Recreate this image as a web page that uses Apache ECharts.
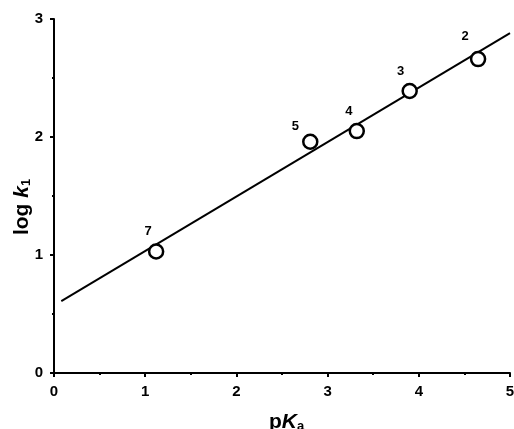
<!DOCTYPE html>
<html>
<head>
<meta charset="utf-8">
<script src="https://cdn.jsdelivr.net/npm/echarts@6/dist/echarts.min.js"></script>
<style>
  html, body { margin: 0; padding: 0; background: #fff; }
  #main { width: 514px; height: 429px; }
</style>
</head>
<body>
<div id="main"></div>
<script>
// measured points (pKa vs log k1), labelled by compound number
var compounds = ['7', '5', '4', '3', '2'];
var pKa = [1.12, 2.81, 3.32, 3.90, 4.65];
var logK1 = [1.03, 1.96, 2.05, 2.39, 2.66];
// fitted straight line, end points
var fitX = [0.08, 5];
var fitY = [0.61, 2.88];
var xTicks = [0, 1, 2, 3, 4, 5];
var yTicks = [0, 1, 2, 3];

var labelOffsets = [[-8, 0], [-15, 4], [-8, 0], [-9, 0], [-13, -3]];

var font = 'Liberation Sans, Arial, sans-serif';

var myChart = echarts.init(document.getElementById('main'));

var pts = pKa.map(function (x, i) {
  return {
    value: [x, logK1[i]],
    label: { offset: labelOffsets[i] }
  };
});

var axisCommon = {
  type: 'value',
  interval: 1,
  axisLine: { show: true, lineStyle: { color: '#000', width: 2 } },
  axisTick: { show: true, inside: false, length: 4, lineStyle: { color: '#000', width: 2 } },
  minorTick: { show: true, splitNumber: 2, length: 2, lineStyle: { color: '#000', width: 2 } },
  splitLine: { show: false },
  axisLabel: { color: '#000', fontFamily: font, fontWeight: 'bold', fontSize: 15, margin: 11 }
};

var nameRich = {
  k: { fontStyle: 'italic', fontWeight: 'bold', fontSize: 21, fontFamily: font, color: '#000' },
  s: { fontWeight: 'bold', fontSize: 13, fontFamily: font, color: '#000', padding: [9, 0, 0, 0] }
};

myChart.setOption({
  animation: false,
  grid: { left: 54, right: 4, top: 19, bottom: 56, containLabel: false, outerBoundsMode: 'none' },
  xAxis: Object.assign({}, axisCommon, {
    min: xTicks[0],
    max: xTicks[xTicks.length - 1],
    name: 'p{k|K}{s|a}',
    nameLocation: 'middle',
    nameGap: 38,
    nameMoveOverlap: false,
    nameTextStyle: {
      color: '#000', fontFamily: font, fontSize: 21, fontWeight: 'bold',
      padding: [0, 0, 0, 9],
      rich: nameRich
    }
  }),
  yAxis: Object.assign({}, axisCommon, {
    min: yTicks[0],
    max: yTicks[yTicks.length - 1],
    name: 'log {k|k}{s|1}',
    nameLocation: 'middle',
    nameRotate: 90,
    nameGap: 21,
    nameMoveOverlap: false,
    nameTextStyle: {
      color: '#000', fontFamily: font, fontSize: 21, fontWeight: 'bold',
      padding: [0, 22, 0, 0],
      rich: nameRich
    }
  }),
  series: [
    {
      type: 'line',
      data: fitX.map(function (x, i) { return [x, fitY[i]]; }),
      showSymbol: false,
      lineStyle: { color: '#000', width: 2 },
      z: 2
    },
    {
      type: 'scatter',
      data: pts,
      symbol: 'circle',
      symbolSize: 14,
      itemStyle: { color: '#fff', borderColor: '#000', borderWidth: 2.5, opacity: 1 },
      label: {
        show: true,
        position: 'top',
        color: '#000',
        fontFamily: font,
        fontWeight: 'bold',
        fontSize: 13,
        formatter: function (p) { return compounds[p.dataIndex]; }
      },
      z: 3
    }
  ]
});
</script>
</body>
</html>
